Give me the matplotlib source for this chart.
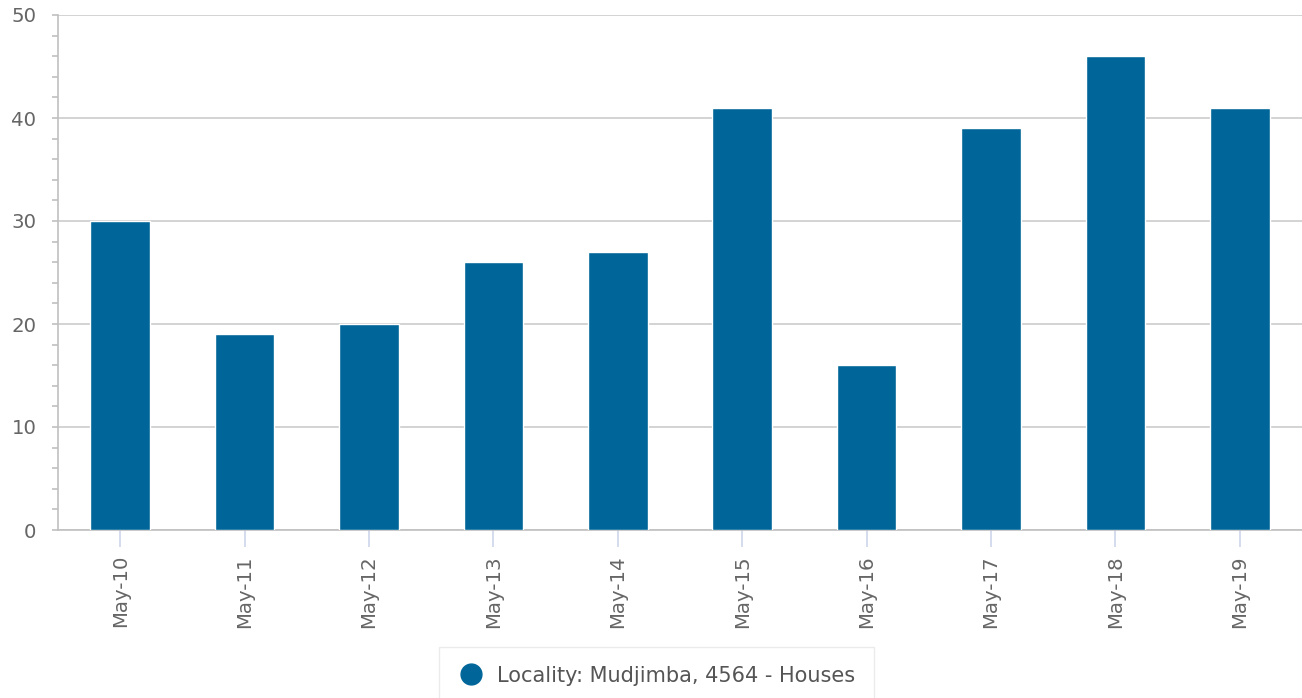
import matplotlib.pyplot as plt
from matplotlib.lines import Line2D
from matplotlib.ticker import MultipleLocator

plt.rcParams['font.family'] = ['DejaVu Sans']

# ── Data ─────────────────────────────────────────────────────────────────────
months = ['May-10', 'May-11', 'May-12', 'May-13', 'May-14',
          'May-15', 'May-16', 'May-17', 'May-18', 'May-19']
sales = [30, 19, 20, 26, 27, 41, 16, 39, 46, 41]
series_label = 'Locality: Mudjimba, 4564 - Houses'

BAR_COLOR = '#006699'
TEXT_COLOR = '#666666'
AXIS_COLOR = '#c0c0c0'

# ── Figure ───────────────────────────────────────────────────────────────────
fig = plt.figure(figsize=(13.02, 6.98), dpi=100)
ax = fig.add_axes([58 / 1302, 1 - 530 / 698, 1 - 58 / 1302, (530 - 15) / 698])

x = range(len(months))
ax.bar(x, sales, width=0.48, color=BAR_COLOR, edgecolor='white',
       linewidth=1, zorder=3)

ax.set_xlim(-0.5, len(months) - 0.5)
ax.set_ylim(0, 50)
ax.yaxis.set_major_locator(MultipleLocator(10))
ax.yaxis.set_minor_locator(MultipleLocator(2))
ax.grid(axis='y', color='#cccccc', linewidth=1.2, zorder=0)

ax.set_xticks(list(x))
ax.set_xticklabels(months, rotation=90)

for side in ('top', 'right'):
    ax.spines[side].set_visible(False)
for side in ('left', 'bottom'):
    ax.spines[side].set_color(AXIS_COLOR)
    ax.spines[side].set_linewidth(1.2)

ax.tick_params(axis='y', which='both', length=4.5, width=1.2,
               color=AXIS_COLOR, labelcolor=TEXT_COLOR, labelsize=14.2, pad=11)
ax.tick_params(axis='x', length=12, width=1.2, color='#ccd6eb',
               labelcolor=TEXT_COLOR, labelsize=14.2, pad=6)

# ── Legend ───────────────────────────────────────────────────────────────────
handle = Line2D([], [], marker='o', linestyle='none', markersize=15,
                markerfacecolor=BAR_COLOR, markeredgecolor=BAR_COLOR)
leg = fig.legend([handle], [series_label], loc='upper center',
                 bbox_to_anchor=(0.504, 1 - 647 / 698), fontsize=15,
                 frameon=True, fancybox=False, handletextpad=0.59,
                 borderpad=0.9, borderaxespad=0, handlelength=1.3)
leg.get_frame().set_edgecolor('#e6e6e6')
leg.get_frame().set_linewidth(1)
for t in leg.get_texts():
    t.set_color('#555555')

fig.savefig('out.png', dpi=100)
